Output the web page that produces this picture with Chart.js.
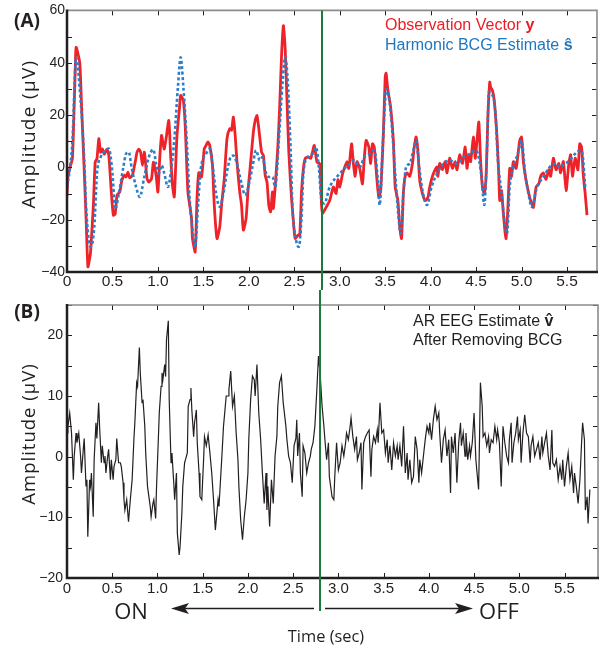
<!DOCTYPE html>
<html><head><meta charset="utf-8">
<script src="https://cdn.jsdelivr.net/npm/chart.js@4.4.0/dist/chart.umd.min.js"></script>
<style>
html,body{margin:0;padding:0;background:#fff;}
#wrap{position:relative;width:606px;height:647px;overflow:hidden;color:#231f20;}
canvas{position:absolute;left:0;}
#cA{top:0;}
#cB{top:290px;}
.t{position:absolute;white-space:nowrap;line-height:1;}
.c{transform:translate(-50%,-50%);}
.panel{font-family:'Open Sans',sans-serif;font-weight:700;font-size:19px;}
.ytitle{font-family:'Open Sans',sans-serif;transform:translate(-50%,-50%) rotate(-90deg);}
.legend{font-family:'Liberation Sans',Arial,sans-serif;font-size:16px;}
.big{font-family:'Open Sans',sans-serif;font-size:22px;}
</style>
</head><body>
<div id="wrap">
<canvas id="cA" width="606" height="290"></canvas>
<canvas id="cB" width="606" height="357"></canvas>
<div class="t c panel" style="left:27px;top:20px;">(A)</div>
<div class="t c panel" style="left:27px;top:311px;">(B)</div>
<div class="t ytitle" style="left:28px;top:134px;font-size:19px;letter-spacing:1.3px;">Amplitude (μV)</div>
<div class="t ytitle" style="left:28px;top:434px;font-size:18.5px;letter-spacing:1px;">Amplitude (μV)</div>
<div class="t legend" style="left:385px;top:15px;line-height:19.5px;">
  <div style="color:#ed1c24;">Observation Vector <b>y</b></div>
  <div style="color:#1f76c0;">Harmonic BCG Estimate <b>ŝ</b></div>
</div>
<div class="t legend" style="left:413px;top:312px;line-height:18.5px;color:#231f20;">
  <div>AR EEG Estimate <b>v&#770;</b></div>
  <div>After Removing BCG</div>
</div>
<div class="t c big" style="left:131px;top:610px;">ON</div>
<div class="t c big" style="left:499px;top:610px;">OFF</div>
<div class="t c" style="left:326px;top:636px;font-family:'Open Sans',sans-serif;font-size:16.4px;">Time (sec)</div>
</div>
<script>
// ---------- data (time in sec, amplitude in µV) ----------
const switchTime = 2.80;

const observation = [
[0,-11],[0.01,-3.7],[0.04,0.8],[0.06,3.4],[0.09,36.4],[0.10,45.9],[0.14,40],[0.16,23.7],[0.19,-1.8],[0.21,-19.5],
[0.23,-38],[0.25,-34.7],[0.26,-32],[0.29,-14.5],[0.31,2],[0.33,3.4],[0.35,11],[0.37,5.8],[0.39,7],[0.41,5],
[0.44,7],[0.46,4.6],[0.49,-10.7],[0.51,-18.3],[0.53,-17.8],[0.55,-10.7],[0.58,-9.4],[0.60,-5.6],[0.61,-4.3],[0.63,-3],
[0.65,-3.7],[0.67,-1.8],[0.69,-4],[0.72,-3],[0.75,2],[0.77,5.8],[0.79,7],[0.81,5.8],[0.83,0.8],[0.85,5.8],[0.86,3.4],
[0.88,-4.3],[0.90,-5.6],[0.93,-4.3],[0.95,2],[0.98,-3],[1.00,-9.4],[1.02,3.4],[1.04,12.2],[1.06,8.4],[1.07,7],
[1.09,11],[1.12,17.9],[1.14,4.6],[1.16,-6.8],[1.18,-11.3],[1.19,-4.3],[1.21,12.2],[1.24,23.7],[1.25,27.5],[1.28,25.5],
[1.30,16],[1.33,-9.4],[1.35,-14.5],[1.37,-19.5],[1.38,-27],[1.41,-32.3],[1.43,-12],[1.45,-2],[1.48,-3.7],[1.51,7.1],
[1.53,8.4],[1.55,9.7],[1.57,8.4],[1.60,0.8],[1.62,-14.5],[1.65,-27.2],[1.68,-22.8],[1.70,-14.5],[1.73,-4.3],[1.76,11],
[1.79,14.8],[1.81,14.2],[1.83,19.2],[1.85,12.2],[1.87,2],[1.90,-9.4],[1.92,-14.5],[1.94,-24],[1.97,-19.5],[1.99,-9.4],
[2.01,-1.8],[2.03,5.8],[2.05,13.5],[2.07,17.9],[2.09,19.8],[2.11,14.8],[2.14,5.8],[2.16,4.6],[2.18,-3],[2.20,-5.6],
[2.22,-14.5],[2.24,-17],[2.26,-9.4],[2.27,-15.7],[2.29,-7.5],[2.32,8.4],[2.34,23.7],[2.36,42.7],[2.38,54.2],[2.40,45.3],
[2.42,25.5],[2.44,5.8],[2.47,-11.9],[2.50,-24.7],[2.51,-27.2],[2.54,-25.9],[2.56,-25.9],[2.58,-9.4],[2.60,-0.5],[2.62,3.4],
[2.65,4],[2.68,3.4],[2.70,5.8],[2.72,8.4],[2.75,2],[2.78,1.4],[2.80,-14.5],[2.81,-17.7],[2.85,-15.3],[2.89,-12.7],
[2.93,-7.5],[2.96,-10],[2.98,-4.7],[3.00,-7.5],[3.03,-2.7],[3.05,-0.4],[3.08,2.2],[3.10,-0.4],[3.13,9],[3.15,1.5],
[3.17,-3.4],[3.19,2.2],[3.22,-0.4],[3.25,-6.3],[3.27,3.5],[3.29,10.3],[3.32,7.8],[3.34,1.5],[3.36,9],[3.38,7.8],
[3.41,-5],[3.43,-11.4],[3.45,-8.9],[3.48,12.8],[3.50,34.5],[3.51,36],[3.53,29.4],[3.56,23],[3.59,10.3],[3.61,-7.5],
[3.64,-12.7],[3.66,-22.8],[3.68,-27.2],[3.70,-10],[3.72,-3.4],[3.74,-2.1],[3.77,-3.4],[3.80,1.5],[3.82,7.8],[3.84,11.6],
[3.86,6.5],[3.88,-5],[3.91,-10],[3.94,-12.7],[3.97,-11.4],[3.99,-7.5],[4.02,-3.4],[4.05,-0.9],[4.07,0.2],[4.08,-3.4],
[4.10,1.5],[4.13,-0.9],[4.16,2.2],[4.18,-2.1],[4.21,3.5],[4.24,-0.4],[4.27,2.2],[4.29,-0.9],[4.32,4.8],[4.35,1.5],
[4.38,7.8],[4.40,-0.4],[4.42,4.8],[4.44,2.2],[4.47,11.6],[4.49,3.5],[4.51,10.3],[4.53,17.3],[4.55,2.2],[4.57,-7.5],
[4.59,-10],[4.61,-3.4],[4.63,19.2],[4.65,32.6],[4.66,30.6],[4.68,29.4],[4.70,25.5],[4.73,11.6],[4.75,-3.4],[4.76,-12.7],
[4.78,-8.9],[4.80,-17.7],[4.82,-25.3],[4.83,-27.2],[4.85,-15.3],[4.87,-0.4],[4.89,-3.4],[4.91,2.2],[4.94,-0.4],[4.96,4.8],
[4.98,10.3],[5.00,11.6],[5.02,2.2],[5.05,-5],[5.08,-10],[5.10,-12.7],[5.13,-15.3],[5.16,-7.5],[5.19,-6.3],[5.21,-3.4],
[5.24,-2.1],[5.27,-4.6],[5.30,-0.9],[5.32,-3.4],[5.35,3.5],[5.38,-0.9],[5.41,1.5],[5.43,-2.1],[5.46,2.2],[5.49,-8.9],
[5.52,1.5],[5.54,4.8],[5.56,-3.4],[5.59,3.5],[5.62,-0.9],[5.64,9],[5.66,7.8],[5.68,-3.4],[5.70,-10],[5.72,-18.3]
];

const harmonicBCG = [
[0,-7.5],[0.04,1.7],[0.06,10.3],[0.10,42],[0.15,25.5],[0.19,2.7],[0.21,-15.1],[0.26,-30.4],[0.30,-22.8],[0.33,-2.3],
[0.37,3.9],[0.43,6.5],[0.46,7.2],[0.50,-2.3],[0.53,-16],[0.57,-10],[0.62,0.1],[0.65,5.2],[0.68,5.8],[0.71,0.1],
[0.76,-7.5],[0.80,-11.3],[0.85,-3.7],[0.90,3.9],[0.95,6.8],[0.98,1.4],[1.01,-2.3],[1.04,0.8],[1.07,-2.3],[1.11,-7.5],
[1.14,-2.3],[1.18,10.3],[1.22,30.7],[1.25,42.1],[1.28,30.7],[1.32,8.4],[1.35,-12.6],[1.39,-26.6],[1.41,-30.4],[1.44,-15.1],
[1.47,-1],[1.53,5.2],[1.57,7.1],[1.60,1.4],[1.64,-10],[1.68,-15.1],[1.72,-10],[1.77,0.1],[1.80,3.9],[1.83,4.5],
[1.87,1.4],[1.92,-6.2],[1.96,-10.6],[2.01,-5],[2.04,0.1],[2.08,6.5],[2.12,2.7],[2.15,3.9],[2.19,-2.3],[2.23,-3.7],
[2.26,-3.7],[2.29,-7.5],[2.33,10.3],[2.37,31.9],[2.40,42.1],[2.43,31.9],[2.46,6.5],[2.48,-15.1],[2.52,-27.9],[2.55,-30.4],
[2.58,-19],[2.60,-2.3],[2.65,3.9],[2.70,5.2],[2.74,7.7],[2.77,0.1],[2.80,-12.6],[2.83,-13.8],[2.89,-7.5],[3.00,-2.4],
[3.11,1.4],[3.16,2.7],[3.22,0.1],[3.27,3.9],[3.33,5.2],[3.38,6.5],[3.42,-5],[3.44,-14.4],[3.47,6.5],[3.50,25.5],
[3.51,30],[3.54,27.5],[3.58,12.8],[3.62,-7.5],[3.65,-20.2],[3.67,-25.3],[3.70,-10],[3.73,0.1],[3.77,1.4],[3.81,6.5],
[3.84,10.3],[3.87,1.4],[3.91,-8.8],[3.96,-14.4],[4.01,-7.5],[4.07,-2.4],[4.14,1.4],[4.21,2.7],[4.29,1.4],[4.36,3.9],
[4.43,5.2],[4.49,6.5],[4.52,5.2],[4.56,-3.7],[4.59,-14.4],[4.62,6.5],[4.64,28.9],[4.67,28.2],[4.71,21.9],[4.74,2.7],
[4.78,-10],[4.82,-22.8],[4.84,-25.3],[4.87,-7.5],[4.91,0.1],[4.96,5.2],[5.00,10.3],[5.04,-2.4],[5.09,-12.6],[5.11,-15.1],
[5.17,-7.5],[5.24,-3.7],[5.31,0.1],[5.37,1.4],[5.42,0.1],[5.48,1.4],[5.53,2.7],[5.59,5.2],[5.65,6.5],[5.67,5.2],[5.70,-7.5]
];

const eegEstimate = [
[0,3.9],[0.01,5],[0.03,7.2],[0.05,3.9],[0.07,-3.8],[0.08,0.1],[0.10,3.9],[0.11,2.3],[0.13,3.9],[0.15,0.1],
[0.16,-2.7],[0.18,1.2],[0.19,3],[0.21,-4.9],[0.22,-3.8],[0.23,-13.2],[0.25,-3.8],[0.26,-4.9],[0.27,-2.7],[0.29,-9.9],
[0.30,-0.5],[0.32,5.6],[0.33,3],[0.35,8.9],[0.36,5],[0.38,-1],[0.39,1.8],[0.41,-1],[0.42,0.1],[0.43,-2.7],
[0.45,0.1],[0.46,1.2],[0.48,-3.8],[0.49,-0.5],[0.51,-3.8],[0.52,-1.6],[0.54,-0.5],[0.55,3],[0.57,-1],[0.59,-1],
[0.60,-1.6],[0.62,-4.3],[0.63,-7.1],[0.64,-8.8],[0.66,-7.1],[0.68,-10.7],[0.70,-7.1],[0.72,-3.8],[0.74,3],[0.75,5.6],
[0.77,12.2],[0.78,11.6],[0.80,18],[0.81,13.8],[0.83,8.9],[0.84,9.4],[0.86,5],[0.87,0.6],[0.89,-4.9],[0.90,-6],
[0.92,-8.2],[0.93,-9.9],[0.95,-7.7],[0.96,-7.1],[0.98,-10.2],[0.99,-4.9],[1.01,3],[1.02,7.2],[1.04,11.6],[1.05,13.8],
[1.06,12.7],[1.08,15.2],[1.09,13.2],[1.10,19.3],[1.12,22.4],[1.13,9.4],[1.15,-1],[1.16,0.6],[1.18,-4.3],[1.19,-7.1],
[1.21,-2.7],[1.22,-12.6],[1.24,-16.2],[1.25,-14.8],[1.27,-9.3],[1.28,-4.9],[1.30,-1],[1.31,-0.5],[1.33,0.6],[1.34,8.3],
[1.36,9.4],[1.37,11.3],[1.38,7.7],[1.40,3.3],[1.41,5.6],[1.43,7.7],[1.44,2.3],[1.46,-2.7],[1.47,-6.6],[1.49,-7.1],
[1.51,-0.5],[1.52,3.3],[1.54,1.8],[1.56,3.6],[1.58,0.6],[1.60,-2.7],[1.62,-7.1],[1.64,-12.1],[1.67,-7.1],[1.68,-8.2],
[1.71,-0.5],[1.73,5],[1.76,10],[1.78,10],[1.79,11.1],[1.81,14.1],[1.83,8.3],[1.85,10],[1.87,3.9],[1.89,-0.5],
[1.90,-4.9],[1.92,-10.4],[1.94,-13.7],[1.96,-9.9],[1.98,-7.1],[2.00,-2.7],[2.01,3],[2.03,9.4],[2.05,13.3],[2.07,12.7],
[2.08,10],[2.10,15.2],[2.12,7.2],[2.14,3],[2.16,-2.7],[2.18,-7.7],[2.20,-2.7],[2.21,-8.8],[2.22,-4.9],[2.24,-11.5],
[2.26,-3.8],[2.28,-7.7],[2.30,0.1],[2.32,3.3],[2.33,8.3],[2.35,12.2],[2.37,13.3],[2.39,8.9],[2.42,5],[2.43,3],
[2.45,0.1],[2.47,-1],[2.49,-4.3],[2.51,1.8],[2.53,3],[2.54,6.1],[2.55,0.1],[2.57,3.9],[2.58,-2.7],[2.60,-6.6],
[2.61,1.8],[2.63,0.6],[2.65,-2.7],[2.67,-1],[2.69,0.1],[2.70,1.2],[2.72,2.3],[2.74,5],[2.76,10.5],[2.78,16.6],
[2.80,13.3],[2.82,8.3],[2.84,5],[2.85,3],[2.87,-0.5],[2.89,2.3],[2.90,-3.3],[2.93,-6.6],[2.95,-7.1],[2.96,-3.3],
[2.98,2.3],[3.00,-2.2],[3.02,-1],[3.04,1.8],[3.06,0.1],[3.08,2.3],[3.09,3.9],[3.11,2.8],[3.13,5],[3.14,6.4],
[3.16,3.3],[3.18,1.2],[3.20,3.3],[3.21,-0.5],[3.23,0.6],[3.25,2.3],[3.26,-5.4],[3.28,2.3],[3.30,3.3],[3.32,3.9],
[3.34,4.4],[3.36,-3.3],[3.37,1.2],[3.39,3.3],[3.41,2.3],[3.43,4.4],[3.44,2.3],[3.46,8.9],[3.48,3.9],[3.50,4.4],
[3.52,0.6],[3.54,2.8],[3.55,-1],[3.57,1.8],[3.59,-2.2],[3.61,2.3],[3.63,0.1],[3.65,1.8],[3.66,-0.5],[3.68,1.8],
[3.70,-1.6],[3.72,5],[3.74,-2.7],[3.76,0.6],[3.77,-3.8],[3.79,-0.5],[3.81,-4.3],[3.83,-3.3],[3.85,3.3],[3.87,1.2],
[3.89,-4.3],[3.90,-0.5],[3.92,-2.7],[3.94,0.1],[3.96,2.8],[3.98,5],[4.00,3.9],[4.01,5.6],[4.03,2.8],[4.05,6.1],
[4.07,8.3],[4.09,6.1],[4.11,7.2],[4.12,3.9],[4.14,-1],[4.16,2.8],[4.18,4.4],[4.20,0.1],[4.22,2.8],[4.24,-6],
[4.25,3.3],[4.27,0.6],[4.29,3.9],[4.31,-4.3],[4.33,2.3],[4.35,5.6],[4.36,1.8],[4.38,3.9],[4.40,0.1],[4.41,3.9],
[4.43,-0.5],[4.45,1.8],[4.46,0.1],[4.48,2.3],[4.50,7.2],[4.52,-0.5],[4.53,-2.2],[4.55,-5.4],[4.56,2.8],[4.57,12.2],
[4.59,8.3],[4.60,3.3],[4.62,3.9],[4.64,1.8],[4.66,3.3],[4.67,0.6],[4.69,2.8],[4.71,2.3],[4.73,5],[4.75,2.8],
[4.76,4.4],[4.78,2.3],[4.80,-4.9],[4.82,5],[4.84,2.3],[4.86,0.1],[4.88,-1],[4.89,2.8],[4.91,5.6],[4.92,-1],
[4.94,2.3],[4.96,3.9],[4.98,6.6],[4.99,2.8],[5.01,4.4],[5.02,-1],[5.04,3.9],[5.06,6.9],[5.08,3.9],[5.10,3.3],
[5.12,-1],[5.13,1.8],[5.15,3.3],[5.17,0.1],[5.19,1.2],[5.21,2.3],[5.23,-0.5],[5.25,3.3],[5.26,0.6],[5.28,2.3],
[5.30,3.9],[5.32,0.1],[5.34,-2.2],[5.36,4.4],[5.37,-1],[5.39,-1.6],[5.41,-0.5],[5.43,-3.8],[5.45,-1.6],[5.47,-3.8],
[5.48,-0.5],[5.50,-4.9],[5.52,-1.6],[5.54,0.6],[5.56,-3.8],[5.58,-1.6],[5.60,-6],[5.61,-2.7],[5.63,-4.9],[5.65,-7.7],
[5.67,-3.8],[5.69,2.8],[5.70,5.6],[5.72,2.8],[5.73,-8.8],[5.75,-6.6],[5.76,-11],[5.78,-5.4]
];

// axis settings
const xRangeA = [0, 5.83], xRangeB = [0, 5.87];
const yRangeA = [-40, 60], yRangeB = [-20, 25];
const yLabelStepA = 20, yLabelStepB = 10;

// ---------- helpers ----------
const toXY = arr => arr.map(p => ({x: p[0], y: p[1]}));
const tickFont = {family: "'Liberation Sans Narrow','Arial Narrow','Liberation Sans',Arial,sans-serif"};
const fmtNum = v => (v < 0 ? '\u2212' + Math.abs(v) : String(v));

function framePlugin(o) {
  return {
    id: 'frameTicks',
    afterDatasetsDraw(chart) {
      const {ctx, chartArea: a, scales: {x, y}} = chart;
      ctx.save();
      ctx.lineWidth = 1; ctx.strokeStyle = '#231f20';
      ctx.beginPath();
      x.ticks.forEach(t => {
        const px = Math.round(x.getPixelForValue(t.value)) + 0.5;
        ctx.moveTo(px, a.bottom); ctx.lineTo(px, a.bottom - 5);
        ctx.moveTo(px, a.top); ctx.lineTo(px, a.top + 5);
      });
      y.ticks.forEach(t => {
        const py = Math.round(y.getPixelForValue(t.value)) + 0.5;
        ctx.moveTo(a.left, py); ctx.lineTo(a.left + 5, py);
        ctx.moveTo(a.right, py); ctx.lineTo(a.right - 5, py);
      });
      ctx.stroke();
      ctx.strokeStyle = '#8c8c8c'; ctx.lineWidth = 1.6;
      ctx.beginPath(); ctx.moveTo(a.left, a.top); ctx.lineTo(a.right, a.top); ctx.lineTo(a.right, a.bottom); ctx.stroke();
      ctx.strokeStyle = '#231f20'; ctx.lineWidth = 2.5;
      ctx.beginPath(); ctx.moveTo(a.left, a.top - 1); ctx.lineTo(a.left, a.bottom); ctx.lineTo(a.right + 1, a.bottom); ctx.stroke();
      // switch (green) line
      const gx = Math.round(x.getPixelForValue(switchTime));
      ctx.strokeStyle = '#1b7a3e'; ctx.lineWidth = 2;
      ctx.beginPath(); ctx.moveTo(gx, o.greenTop === 'area' ? a.top : o.greenTop); ctx.lineTo(gx, o.greenBottom); ctx.stroke();
      if (o.arrowY) {
        const ay = o.arrowY;
        ctx.strokeStyle = '#231f20'; ctx.fillStyle = '#231f20'; ctx.lineWidth = 1.6;
        const lTip = gx - 149, rTip = gx + 153;
        ctx.beginPath(); ctx.moveTo(gx - 6, ay); ctx.lineTo(lTip + 12, ay);
        ctx.moveTo(gx + 5, ay); ctx.lineTo(rTip - 12, ay); ctx.stroke();
        ctx.beginPath(); ctx.moveTo(lTip, ay); ctx.lineTo(lTip + 18, ay - 5.5); ctx.lineTo(lTip + 14, ay); ctx.lineTo(lTip + 18, ay + 5.5); ctx.closePath(); ctx.fill();
        ctx.beginPath(); ctx.moveTo(rTip, ay); ctx.lineTo(rTip - 18, ay - 5.5); ctx.lineTo(rTip - 14, ay); ctx.lineTo(rTip - 18, ay + 5.5); ctx.closePath(); ctx.fill();
      }
      ctx.restore();
    }
  };
}

function makeScales(xr, yr, yStep, yLabelStep, xH, xFont, xPad, yFont, yPad) {
  return {
    x: {
      type: 'linear', min: xr[0], max: xr[1],
      grid: {display: false, drawTicks: false}, border: {display: false},
      afterFit: s => { s.height = xH; },
      ticks: {stepSize: 0.5, includeBounds: false, autoSkip: false, maxRotation: 0, padding: xPad,
        color: '#231f20', font: Object.assign({size: xFont}, tickFont),
        callback: v => (v === 0 ? '0' : v.toFixed(1))}
    },
    y: {
      type: 'linear', min: yr[0], max: yr[1],
      grid: {display: false, drawTicks: false}, border: {display: false},
      afterFit: s => { s.width = 67; },
      ticks: {stepSize: yStep, autoSkip: false, padding: yPad, color: '#231f20',
        font: Object.assign({size: yFont}, tickFont),
        callback: v => (v % yLabelStep === 0 ? fmtNum(v) : '')}
    }
  };
}

const common = {
  responsive: false, animation: false, events: [],
  plugins: {legend: {display: false}, tooltip: {enabled: false}},
  elements: {point: {radius: 0}}
};

new Chart(document.getElementById('cA'), {
  type: 'line',
  data: {datasets: [
    {data: toXY(harmonicBCG), borderColor: '#2a7fcb', borderWidth: 2.6, borderDash: [3, 2.4],
     cubicInterpolationMode: 'monotone', order: 0},
    {data: toXY(observation), borderColor: '#ee2229', borderWidth: 2.8, tension: 0.2, order: 1}
  ]},
  options: Object.assign({}, common, {
    layout: {padding: {top: 9, right: 9, left: 0, bottom: 0}},
    scales: makeScales(xRangeA, yRangeA, 10, yLabelStepA, 18, 15.5, 0, 14, 2)
  }),
  plugins: [framePlugin({greenTop: 'area', greenBottom: 290})]
});

new Chart(document.getElementById('cB'), {
  type: 'line',
  data: {datasets: [
    {data: toXY(eegEstimate), borderColor: '#231f20', borderWidth: 1.2, tension: 0}
  ]},
  options: Object.assign({}, common, {
    layout: {padding: {top: 15, right: 8, left: 0, bottom: 0}},
    scales: makeScales(xRangeB, yRangeB, 5, yLabelStepB, 69, 15, 2, 14, 4)
  }),
  plugins: [framePlugin({greenTop: 0, greenBottom: 321, arrowY: 318.5})]
});
</script>
</body></html>
